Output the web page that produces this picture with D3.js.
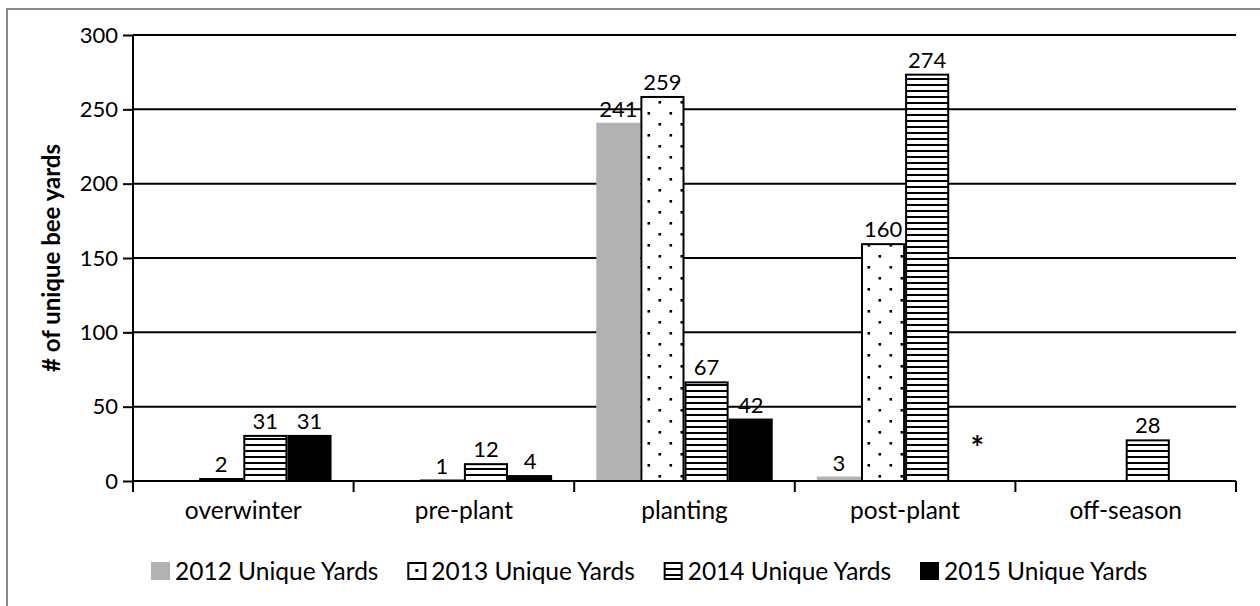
<!DOCTYPE html>
<html>
<head>
<meta charset="utf-8">
<script src="https://cdn.jsdelivr.net/npm/d3@7"></script>
<style>
  html, body { margin: 0; padding: 0; background: #fff; }
  svg { display: block; }
  text { font-family: Lato, "Open Sans", sans-serif; fill: #000; }
</style>
</head>
<body>
<svg id="chart" width="1260" height="606"></svg>
<script>
// ---- data ----
const categories = ["overwinter", "pre-plant", "planting", "post-plant", "off-season"];
const seriesNames = ["2012 Unique Yards", "2013 Unique Yards", "2014 Unique Yards", "2015 Unique Yards"];
const values2012 = [0, 0, 241, 3, 0];
const values2013 = [2, 1, 259, 160, 0];
const values2014 = [31, 12, 67, 274, 28];
const values2015 = [31, 4, 42, 0, 0];
const yTicks = [0, 50, 100, 150, 200, 250, 300];
const yTitle = "# of unique bee yards";
const noteCategory = "post-plant";
const noteSeries = "2015 Unique Yards";
const noteText = "*";

const seriesValues = [values2012, values2013, values2014, values2015];

// ---- layout ----
const svg = d3.select("#chart");
const plotLeft = 133, plotRight = 1236, plotTop = 35, plotBottom = 481;
const numSize = 22;
const textSize = 24.5;

// patterns
const defs = svg.append("defs");
const dots = defs.append("pattern").attr("id", "dots")
  .attr("patternUnits", "userSpaceOnUse").attr("width", 22).attr("height", 22)
  .attr("x", 0).attr("y", 0);
dots.append("rect").attr("width", 22).attr("height", 22).attr("fill", "#fff");
dots.append("rect").attr("x", 9.5).attr("y", 2).attr("width", 2.6).attr("height", 2.6).attr("fill", "#000");
dots.append("rect").attr("x", 20.5).attr("y", 13).attr("width", 2.6).attr("height", 2.6).attr("fill", "#000");
dots.append("rect").attr("x", -1.5).attr("y", 13).attr("width", 2.6).attr("height", 2.6).attr("fill", "#000");

const stripes = defs.append("pattern").attr("id", "stripes")
  .attr("patternUnits", "userSpaceOnUse").attr("width", 10).attr("height", 6);
stripes.append("rect").attr("width", 10).attr("height", 6).attr("fill", "#fff");
stripes.append("rect").attr("y", 0).attr("width", 10).attr("height", 2).attr("fill", "#000");

const legDot = defs.append("pattern").attr("id", "legdot")
  .attr("patternUnits", "objectBoundingBox").attr("width", 1).attr("height", 1);
legDot.append("rect").attr("width", 19).attr("height", 19).attr("fill", "#fff");
legDot.append("rect").attr("x", 7).attr("y", 6).attr("width", 3).attr("height", 3).attr("fill", "#000");

const fills = ["#b2b2b2", "url(#dots)", "url(#stripes)", "#000"];
const strokes = ["none", "#000", "#000", "none"];

// outer frame
svg.append("rect").attr("x", 7).attr("y", 9).attr("width", 1400).attr("height", 800)
  .attr("fill", "none").attr("stroke", "#8a8a8a").attr("stroke-width", 2);

// scales
const x0 = d3.scaleBand().domain(categories).range([plotLeft, plotRight]).paddingInner(0.2).paddingOuter(0.1);
const x1 = d3.scaleBand().domain(seriesNames).range([0, x0.bandwidth()]).padding(0);
const xAxisScale = d3.scaleBand().domain(categories).range([plotLeft, plotRight]).padding(0);
const y = d3.scaleLinear().domain([0, 300]).range([plotBottom, plotTop]);

// gridlines
svg.append("g").selectAll("line").data(yTicks.filter(d => d > 0)).join("line")
  .attr("x1", plotLeft).attr("x2", plotRight)
  .attr("y1", d => y(d)).attr("y2", d => y(d))
  .attr("stroke", "#000").attr("stroke-width", 2);

// bars
const data = [];
categories.forEach((c, i) => seriesNames.forEach((s, j) => data.push({cat: c, series: s, j, value: seriesValues[j][i]})));

const gBars = svg.append("g");
gBars.selectAll("rect").data(data.filter(d => d.value > 0)).join("rect")
  .attr("x", d => x0(d.cat) + x1(d.series) + (strokes[d.j] !== "none" ? 1 : 0))
  .attr("y", d => y(d.value) + (strokes[d.j] !== "none" ? 1 : 0))
  .attr("width", d => x1.bandwidth() - (strokes[d.j] !== "none" ? 2 : 0))
  .attr("height", d => Math.max(0, y(0) - y(d.value) - (strokes[d.j] !== "none" ? 1 : 0)))
  .attr("fill", d => fills[d.j])
  .attr("stroke", d => strokes[d.j])
  .attr("stroke-width", 2);

// value labels
svg.append("g").selectAll("text").data(data.filter(d => d.value > 0)).join("text")
  .attr("x", d => x0(d.cat) + x1(d.series) + x1.bandwidth() / 2)
  .attr("y", d => y(d.value) - 6)
  .attr("text-anchor", "middle")
  .attr("font-size", numSize)
  .text(d => d.value);

// note
svg.append("text")
  .attr("x", x0(noteCategory) + x1(noteSeries) + x1.bandwidth() / 2 + 6)
  .attr("y", y(0) - 21)
  .attr("text-anchor", "middle")
  .attr("font-size", 32).attr("font-weight", "bold")
  .text(noteText);

// y axis
const yAxis = d3.axisLeft(y).tickValues(yTicks).tickSize(10).tickPadding(5);
const gy = svg.append("g").attr("transform", `translate(${plotLeft},0)`).call(yAxis);
gy.select(".domain").remove();
gy.selectAll(".tick line").attr("stroke", "#000").attr("stroke-width", 2);
gy.selectAll(".tick text").attr("font-size", numSize).attr("font-family", "Lato, sans-serif").attr("fill", "#000");
svg.append("line").attr("x1", plotLeft).attr("x2", plotLeft).attr("y1", plotTop).attr("y2", plotBottom + 11)
  .attr("stroke", "#000").attr("stroke-width", 2);

// x axis
svg.append("line").attr("x1", plotLeft).attr("x2", plotRight).attr("y1", plotBottom).attr("y2", plotBottom)
  .attr("stroke", "#000").attr("stroke-width", 2);
const bounds = categories.map(c => xAxisScale(c)).concat([xAxisScale(categories[categories.length - 1]) + xAxisScale.bandwidth()]);
svg.append("g").selectAll("line").data(bounds).join("line")
  .attr("x1", d => d).attr("x2", d => d).attr("y1", plotBottom).attr("y2", plotBottom + 11)
  .attr("stroke", "#000").attr("stroke-width", 2);
const xAxis = d3.axisBottom(xAxisScale).tickSize(0).tickPadding(21);
const gx = svg.append("g").attr("transform", `translate(0,${plotBottom})`).call(xAxis);
gx.select(".domain").remove();
gx.selectAll(".tick text").attr("font-size", textSize).attr("font-family", "Lato, sans-serif").attr("fill", "#000");

// y title
svg.append("text")
  .attr("transform", `translate(52,${(plotTop + plotBottom) / 2}) rotate(-90)`)
  .attr("text-anchor", "middle").attr("dy", "0.35em")
  .attr("font-size", 24).attr("font-weight", "bold")
  .text(yTitle);

// legend
const legendX = d3.scalePoint().domain(seriesNames).range([151, 920]);
const lg = svg.append("g").selectAll("g").data(seriesNames).join("g")
  .attr("transform", d => `translate(${legendX(d)},562)`);
lg.append("rect")
  .attr("x", (d, i) => strokes[i] !== "none" ? 1 : 0)
  .attr("y", (d, i) => strokes[i] !== "none" ? 1 : 0)
  .attr("width", (d, i) => strokes[i] !== "none" ? 17 : 19)
  .attr("height", (d, i) => strokes[i] !== "none" ? 16 : 18)
  .attr("fill", (d, i) => i === 1 ? "url(#legdot)" : i === 2 ? "url(#stripes)" : fills[i])
  .attr("stroke", (d, i) => strokes[i]).attr("stroke-width", 2);
lg.append("text").attr("x", 24).attr("y", 9).attr("dy", "0.35em")
  .attr("font-size", textSize).text(d => d);
</script>
</body>
</html>
